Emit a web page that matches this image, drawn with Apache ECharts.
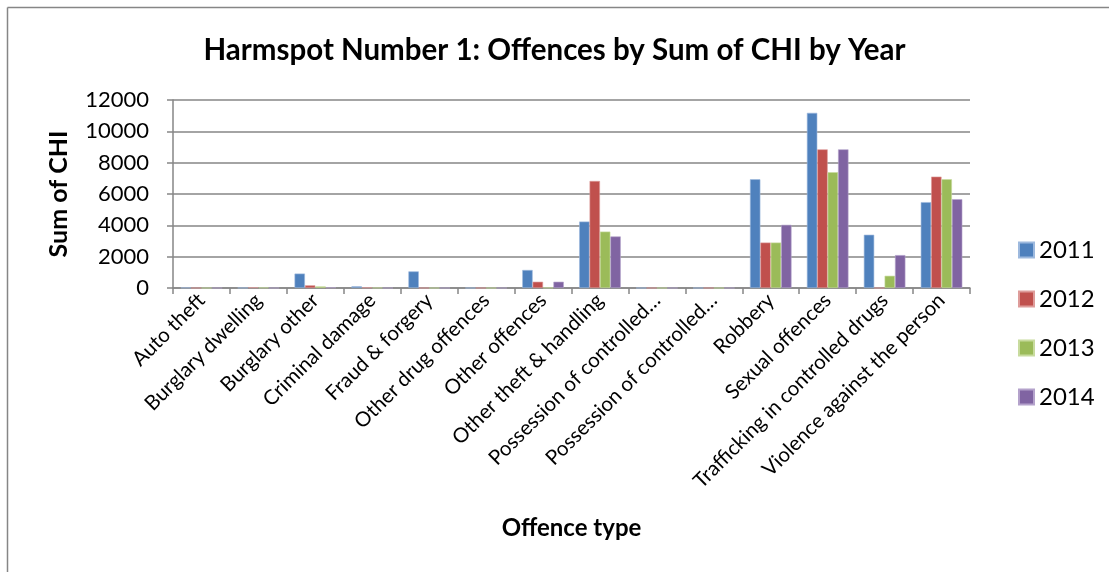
<!DOCTYPE html>
<html>
<head>
<meta charset="utf-8">
<script src="https://cdn.jsdelivr.net/npm/echarts@6/dist/echarts.min.js"></script>
<style>
    html, body {margin: 0; padding: 0; background: #fff;}
    #chart {width: 1109px; height: 572px;}
</style>
</head>
<body>
<div id="chart"></div>
<script>
//分类与数据
var offenceTypes = ['Auto theft', 'Burglary dwelling', 'Burglary other', 'Criminal damage', 'Fraud & forgery',
    'Other drug offences', 'Other offences', 'Other theft & handling', 'Possession of controlled…',
    'Possession of controlled…', 'Robbery', 'Sexual offences', 'Trafficking in controlled drugs',
    'Violence against the person'];
var years = ['2011', '2012', '2013', '2014'];
var chi2011 = [20, 10, 920, 110, 1060, 0, 1150, 4240, 0, 0, 6940, 11180, 3400, 5480];
var chi2012 = [0, 40, 170, 30, 0, 0, 400, 6830, 0, 0, 2900, 8850, 0, 7110];
var chi2013 = [0, 20, 100, 10, 0, 0, 20, 3600, 0, 0, 2900, 7390, 780, 6940];
var chi2014 = [0, 0, 30, 0, 0, 0, 400, 3290, 0, 0, 4030, 8850, 2100, 5670];
var yTicks = [0, 2000, 4000, 6000, 8000, 10000, 12000];

var colorBox = ['#4F81BD', '#C0504D', '#9BBB59', '#8064A2'];
var borderBox = ['#9DB9DE', '#DE9C9A', '#C8DB9E', '#B4A2CB'];
var font = 'Lato, "Open Sans", sans-serif';

var chart = echarts.init(document.getElementById('chart'));
var seriesData = [chi2011, chi2012, chi2013, chi2014];
var series = [];
for (var i = 0; i < years.length; i++) {
    series.push({
        name: years[i],
        type: 'bar',
        data: seriesData[i],
        barGap: 0,
        barCategoryGap: '27%',
        itemStyle: {color: colorBox[i], borderColor: borderBox[i], borderWidth: 0.6}
    });
}

var option = {
    backgroundColor: '#fff',
    animation: false,
    textStyle: {fontFamily: font},
    title: {
        text: 'Harmspot Number 1: Offences by Sum of CHI by Year',
        left: 'center',
        top: 30,
        textStyle: {fontFamily: font, fontSize: 29.5, fontWeight: 'bold', color: '#000'}
    },
    legend: {
        orient: 'vertical',
        left: 1013,
        top: 233,
        itemWidth: 15,
        itemHeight: 15,
        itemGap: 25,
        icon: 'rect',
        data: years,
        textStyle: {fontFamily: font, fontSize: 24, color: '#000'}
    },
    grid: {left: 173, right: 139, top: 100, bottom: 284},
    xAxis: {
        type: 'category',
        data: offenceTypes,
        name: 'Offence type',
        nameLocation: 'middle',
        nameGap: 228,
        nameTextStyle: {fontFamily: font, fontSize: 24, fontWeight: 'bold', color: '#000'},
        axisLine: {lineStyle: {color: '#868686', width: 1.5}},
        axisTick: {show: true, length: 6, lineStyle: {color: '#868686', width: 1.5}},
        axisLabel: {
            interval: 0,
            rotate: 45,
            fontFamily: font,
            fontSize: 20.5,
            color: '#000',
            margin: 9
        }
    },
    yAxis: {
        type: 'value',
        min: 0,
        max: 12000,
        interval: 2000,
        name: 'Sum of CHI',
        nameLocation: 'middle',
        nameRotate: 90,
        nameGap: 102,
        nameTextStyle: {fontFamily: font, fontSize: 25, fontWeight: 'bold', color: '#000'},
        axisLine: {show: true, lineStyle: {color: '#868686', width: 1.5}},
        axisTick: {show: true, length: 6, lineStyle: {color: '#868686', width: 1.5}},
        splitLine: {lineStyle: {color: '#868686', width: 1.5}},
        axisLabel: {
            fontFamily: font,
            fontSize: 22,
            color: '#000',
            margin: 24,
            formatter: function (v) {
                return yTicks.indexOf(v) >= 0 ? String(v) : '';
            }
        }
    },
    graphic: [
        {type: 'line', shape: {x1: 7.5, y1: 7.5, x2: 1109, y2: 7.5}, style: {stroke: '#868686', lineWidth: 1.5}},
        {type: 'line', shape: {x1: 7.5, y1: 7.5, x2: 7.5, y2: 572}, style: {stroke: '#868686', lineWidth: 1.5}}
    ],
    series: series
};
chart.setOption(option);
</script>
</body>
</html>
